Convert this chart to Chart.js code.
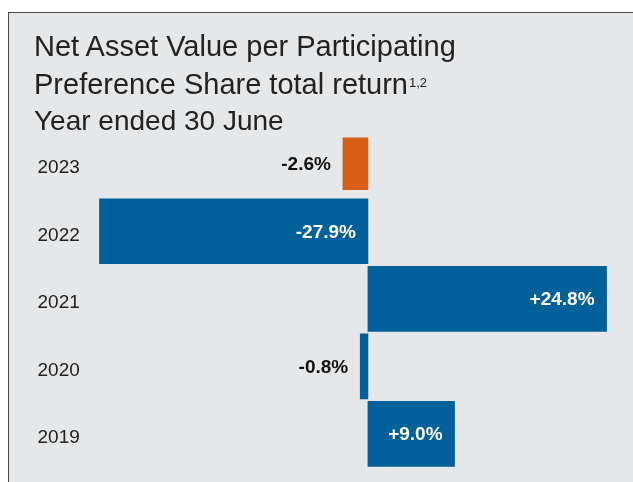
<!DOCTYPE html>
<html>
<head>
<meta charset="utf-8">
<script src="https://cdn.jsdelivr.net/npm/chart.js@4.4.0/dist/chart.umd.min.js"></script>
<style>
  html, body { margin: 0; padding: 0; background: #ffffff; overflow: hidden; }
  #panel {
    position: absolute; left: 8px; top: 12px; width: 640px; height: 480px;
    background: #e6e7e9; border-left: 1px solid #4a4a4a; border-top: 1px solid #4a4a4a;
  }
  .t {
    position: absolute; left: 34px;
    font-family: "Liberation Sans", Arial, sans-serif; font-size: 29px; line-height: 29px;
    color: #222222; white-space: nowrap;
  }
  .t sup { font-size: 13px; line-height: 0; vertical-align: baseline; position: relative; top: -7px; margin-left: 1px; }
  #wrap { position: absolute; left: 0; top: 0; width: 633px; height: 482px; }
</style>
</head>
<body>
<div id="panel"></div>
<div id="wrap"><canvas id="chart"></canvas></div>
<div class="t" style="top:32px">Net Asset Value per Participating</div>
<div class="t" style="top:69.5px">Preference Share total return<sup>1,2</sup></div>
<div class="t" style="top:106px; font-size:28px;">Year ended 30 June</div>
<script>
// financial years, top to bottom
var years = ['2023', '2022', '2021', '2020', '2019'];
// NAV per share total return, %
var totalReturn = [-2.6, -27.9, 24.8, -0.8, 9.0];
var latestYear = '2023';

var blue = '#00609a';
var orange = '#d95e16';

var latestData = years.map(function(y, i) { return y === latestYear ? totalReturn[i] : null; });
var otherData = years.map(function(y, i) { return y === latestYear ? null : totalReturn[i]; });

function fmt(v) {
    return (v > 0 ? '+' : '') + v.toFixed(1) + '%';
}

// value labels: big bars get white text inside, small ones black text to the left
var valueLabels = {
    id: 'valueLabels',
    afterDatasetsDraw: function(chart) {
        var ctx = chart.ctx;
        ctx.save();
        ctx.font = 'bold 19px "Liberation Sans", Arial, sans-serif';
        ctx.textAlign = 'right';
        ctx.textBaseline = 'middle';
        chart.data.datasets.forEach(function(ds, di) {
            var meta = chart.getDatasetMeta(di);
            meta.data.forEach(function(bar, i) {
                var v = ds.data[i];
                if (v === null || v === undefined) return;
                var x;
                if (Math.abs(v) >= 5) {
                    ctx.fillStyle = '#ffffff';
                    x = Math.max(bar.x, bar.base) - 12;
                } else {
                    ctx.fillStyle = '#111111';
                    x = Math.min(bar.x, bar.base) - 12;
                }
                ctx.fillText(fmt(v), x, bar.y + 1);
            });
        });
        ctx.restore();
    }
};

var ctx = document.getElementById('chart');
var chart = new Chart(ctx, {
    type: 'bar',
    data: {
        labels: years,
        datasets: [
            {
                data: latestData,
                backgroundColor: orange,
                barThickness: 52,
                grouped: false
            },
            {
                data: otherData,
                backgroundColor: blue,
                barThickness: 65,
                grouped: false
            }
        ]
    },
    options: {
        indexAxis: 'y',
        responsive: true,
        maintainAspectRatio: false,
        animation: false,
        layout: { padding: { left: 37.5, right: 24.5, top: 130, bottom: 14 } },
        plugins: {
            legend: { display: false },
            tooltip: { enabled: false }
        },
        scales: {
            x: {
                type: 'linear',
                min: -28,
                max: 25,
                display: false
            },
            y: {
                grid: { display: false },
                border: { display: false },
                ticks: {
                    crossAlign: 'far',
                    labelOffset: 4,
                    color: '#222222',
                    font: { family: '"Liberation Sans", Arial, sans-serif', size: 19 }
                },
                afterFit: function(axis) { axis.width = 61; }
            }
        }
    },
    plugins: [valueLabels]
});
</script>
</body>
</html>
